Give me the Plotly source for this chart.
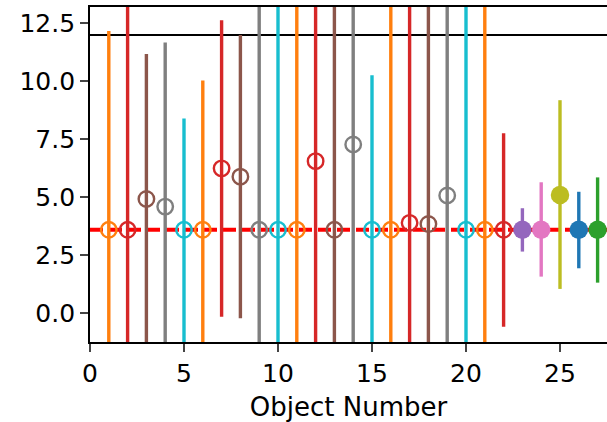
import plotly.graph_objects as go

# ---- data ----
object_number = list(range(1, 28))
values = [3.6, 3.6, 4.93, 4.6, 3.6, 3.6, 6.25, 5.89, 3.6, 3.6,
          3.6, 6.56, 3.6, 7.28, 3.6, 3.6, 3.9, 3.85, 5.08, 3.6,
          3.6, 3.6, 3.6, 3.6, 5.1, 3.6, 3.6]
upper = [12.18, 30, 11.18, 11.68, 8.4, 10.04, 12.64, 12.0, 30, 30,
         30, 30, 30, 30, 10.27, 30, 30, 30, 30, 30,
         30, 7.76, 4.53, 5.65, 9.19, 5.24, 5.86]
lower = [-20, -20, -20, -20, -20, -20, -0.15, -0.22, -20, -20,
         -20, -20, -20, -20, -20, -20, -20, -20, -20, -20,
         -20, -0.58, 2.66, 1.58, 1.05, 1.94, 1.32]
colors = ["#ff7f0e", "#d62728", "#8c564b", "#7f7f7f", "#17becf"] * 4 + \
         ["#ff7f0e", "#d62728", "#9467bd", "#e377c2", "#bcbd22", "#1f77b4", "#2ca02c"]
filled = [False] * 22 + [True] * 5
mean_level = 3.6
limit_level = 12.0
x_ticks = [0, 5, 10, 15, 20, 25]
y_ticks = [0.0, 2.5, 5.0, 7.5, 10.0, 12.5]
y_ticktext = ["0.0", "2.5", "5.0", "7.5", "10.0", "12.5"]

FONT = "DejaVu Sans"

fig = go.Figure()
for xi, v, up, lo, c, f in zip(object_number, values, upper, lower, colors, filled):
    fig.add_trace(go.Scatter(
        x=[xi], y=[v], mode="markers",
        marker=dict(symbol="circle" if f else "circle-open",
                    size=18.5 if f else 15.5, color=c,
                    line=dict(width=0 if f else 2.4, color=c)),
        error_y=dict(type="data", symmetric=False, array=[up - v], arrayminus=[v - lo],
                     color=c, thickness=3.4, width=0),
        showlegend=False, hoverinfo="x+y",
    ))

fig.add_shape(type="line", xref="paper", x0=0, x1=1, yref="y", y0=mean_level, y1=mean_level,
              line=dict(color="#ff0000", width=4, dash="13px,6px"), layer="below")
fig.add_shape(type="line", xref="paper", x0=0, x1=1, yref="y", y0=limit_level, y1=limit_level,
              line=dict(color="black", width=2), layer="below")

fig.update_layout(
    width=607, height=422,
    margin=dict(l=90, r=0, t=7, b=80),
    plot_bgcolor="white", paper_bgcolor="white",
    font=dict(family=FONT, size=25, color="black"),
    xaxis=dict(range=[0, 27.5], tickvals=x_ticks, ticks="outside", ticklen=8, tickwidth=1.8,
               showline=True, linecolor="black", linewidth=1.8, mirror=True,
               showgrid=False, zeroline=False,
               title=dict(text="Object Number", font=dict(size=26), standoff=11),
               tickfont=dict(size=25)),
    yaxis=dict(range=[-1.24, 13.21], tickvals=y_ticks, ticktext=y_ticktext,
               ticks="outside", ticklen=8, tickwidth=1.8,
               showline=True, linecolor="black", linewidth=1.8, mirror=False,
               showgrid=False, zeroline=False, tickfont=dict(size=25)),
)

fig.write_html("out.html", config={"displayModeBar": False})
with open("out.html", "r", encoding="utf-8") as fh:
    html = fh.read()
html = html.replace("<head>", "<head><style>html,body{margin:0;padding:0;overflow:hidden;}</style>", 1)
with open("out.html", "w", encoding="utf-8") as fh:
    fh.write(html)
